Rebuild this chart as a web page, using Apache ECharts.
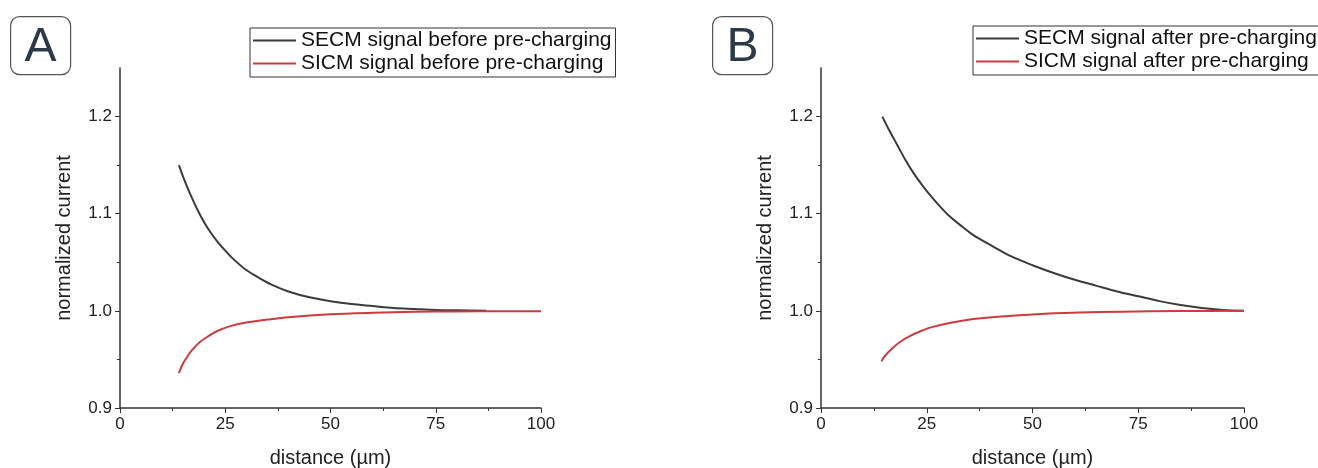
<!DOCTYPE html>
<html>
<head>
<meta charset="utf-8">
<script src="https://cdn.jsdelivr.net/npm/echarts@6/dist/echarts.min.js"></script>
<style>
  html, body { margin: 0; padding: 0; background: #fff; }
  #chart { width: 1318px; height: 468px; }
</style>
</head>
<body>
<div id="chart"></div>
<script>
// panel A - before pre-charging
const secmAx = [14, 15, 17, 19, 21, 23, 25, 27, 30, 33, 36, 40, 45, 50, 55, 60, 65, 70, 75, 80, 87];
const secmAy = [1.150, 1.138, 1.117, 1.099, 1.084, 1.072, 1.062, 1.053, 1.042, 1.034, 1.027, 1.020, 1.014, 1.010, 1.007, 1.005, 1.003, 1.002, 1.001, 1.0005, 1.0];
const sicmAx = [14, 15, 16, 17, 19, 21, 23, 26, 30, 35, 40, 50, 60, 70, 80, 90, 100];
const sicmAy = [0.936, 0.946, 0.953, 0.959, 0.968, 0.974, 0.979, 0.984, 0.988, 0.991, 0.9935, 0.9965, 0.998, 0.999, 0.9994, 0.9995, 0.9995];

// panel B - after pre-charging
const secmBx = [14.5, 16, 18, 20, 22, 24, 26, 28, 30, 33, 36, 40, 45, 50, 55, 60, 65, 70, 75, 80, 85, 90, 95, 100];
const secmBy = [1.200, 1.187, 1.171, 1.155, 1.141, 1.129, 1.118, 1.108, 1.099, 1.088, 1.078, 1.068, 1.056, 1.047, 1.039, 1.032, 1.026, 1.020, 1.015, 1.010, 1.006, 1.003, 1.001, 1.0];
const sicmBx = [14.3, 15, 17, 19, 21, 23.5, 26, 31, 36, 41, 51, 61, 71, 85, 100];
const sicmBy = [0.948, 0.953, 0.962, 0.969, 0.974, 0.979, 0.983, 0.988, 0.9915, 0.9938, 0.9966, 0.9982, 0.9992, 0.9998, 1.0];

const yMajor = [0.9, 1.0, 1.1, 1.2];
const yMinor = [0.95, 1.05, 1.15];

const names = [
  ['SECM signal before pre-charging', 'SICM signal before pre-charging'],
  ['SECM signal after pre-charging', 'SICM signal after pre-charging']
];

const pair = (xs, ys) => xs.map((x, i) => [x, ys[i]]);

const font = 'Liberation Sans, Arial, sans-serif';
const axisColor = '#333';
const blackLine = '#3b3b3b';
const redLine = '#cf3a3e';

const grids = [
  { left: 120, top: 68, width: 421, height: 340, outerBoundsMode: 'none' },
  { left: 821, top: 68, width: 423, height: 340, outerBoundsMode: 'none' }
];

let xAxis = [], yAxis = [];
grids.forEach((g, i) => {
  xAxis.push({
    gridIndex: i, type: 'value', min: 0, max: 100, interval: 25,
    name: 'distance (µm)', nameLocation: 'middle', nameGap: 40,
    nameTextStyle: { fontSize: 20, color: '#222', fontFamily: font },
    axisLine: { lineStyle: { color: axisColor, width: 1.5 } },
    axisTick: { inside: false, length: 5, lineStyle: { color: axisColor } },
    minorTick: { show: true, splitNumber: 2, length: 3, lineStyle: { color: axisColor } },
    axisLabel: { fontSize: 17, color: '#222', margin: 8, fontFamily: font },
    splitLine: { show: false }
  });
  yAxis.push({
    gridIndex: i, type: 'value', min: 0.9, max: 1.25,
    name: 'normalized current', nameLocation: 'middle', nameGap: 46,
    nameTextStyle: { fontSize: 20, color: '#222', fontFamily: font },
    axisLine: { lineStyle: { color: axisColor, width: 1.5 } },
    axisTick: { inside: false, length: 5, customValues: yMajor, lineStyle: { color: axisColor } },
    axisLabel: {
      fontSize: 17, color: '#222', margin: 8, fontFamily: font,
      customValues: yMajor, formatter: v => v.toFixed(1)
    },
    splitLine: { show: false }
  });
  // second axis just for the minor ticks
  yAxis.push({
    gridIndex: i, type: 'value', min: 0.9, max: 1.25, position: 'left',
    axisLine: { show: false },
    axisTick: { inside: false, length: 3, customValues: yMinor, lineStyle: { color: axisColor } },
    axisLabel: { show: false },
    splitLine: { show: false }
  });
});

const mkSeries = (name, data, gi, color) => ({
  name: name, type: 'line', xAxisIndex: gi, yAxisIndex: gi * 2,
  data: data, symbol: 'none', smooth: 0.3,
  lineStyle: { color: color, width: 2 }, itemStyle: { color: color }
});

const series = [
  mkSeries(names[0][0], pair(secmAx, secmAy), 0, blackLine),
  mkSeries(names[0][1], pair(sicmAx, sicmAy), 0, redLine),
  mkSeries(names[1][0], pair(secmBx, secmBy), 1, blackLine),
  mkSeries(names[1][1], pair(sicmBx, sicmBy), 1, redLine)
];

const mkLegend = (left, top, data) => ({
  left: left, top: top, orient: 'vertical', data: data,
  icon: 'rect', itemWidth: 43, itemHeight: 2, itemGap: 2,
  padding: [2, 4, 3, 3],
  borderColor: '#333', borderWidth: 1,
  textStyle: { fontSize: 21, color: '#111', fontFamily: font }
});

const mkTag = (left, letter) => ({
  type: 'group', left: left, top: 16,
  children: [
    { type: 'rect', shape: { x: 0, y: 0, width: 60, height: 58, r: 9 },
      style: { fill: '#fff', stroke: '#555', lineWidth: 1.2 } },
    { type: 'text', x: 30, y: 31,
      style: { text: letter, font: '48px ' + font, fill: '#2b3a4a', align: 'center', verticalAlign: 'middle' } }
  ]
});

const chart = echarts.init(document.getElementById('chart'));
chart.setOption({
  animation: false,
  grid: grids,
  xAxis: xAxis,
  yAxis: yAxis,
  legend: [mkLegend(250, 28, names[0]), mkLegend(973, 26, names[1])],
  graphic: [mkTag(10, 'A'), mkTag(712, 'B')],
  series: series
});
</script>
</body>
</html>
